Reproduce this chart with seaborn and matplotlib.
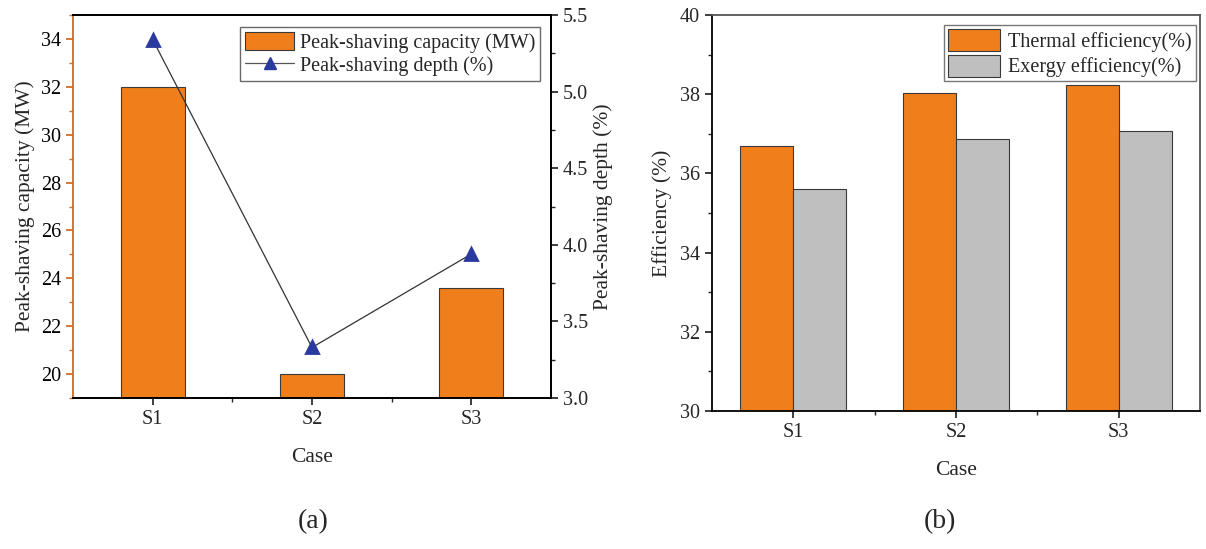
import numpy as np
import pandas as pd
import matplotlib
matplotlib.use("Agg")
import matplotlib.pyplot as plt
from matplotlib.ticker import MultipleLocator, FixedLocator, FormatStrFormatter
from matplotlib.patches import Patch
from matplotlib.lines import Line2D
import seaborn as sns

cases = ["S1", "S2", "S3"]
capacity_mw = [32.0, 20.0, 23.6]
depth_pct = [5.34, 3.33, 3.94]
thermal_eff = [36.70, 38.02, 38.22]
exergy_eff = [35.60, 36.86, 37.06]

sns.set_theme(style="ticks")
plt.rcParams["font.family"] = ["Liberation Serif", "DejaVu Serif"]

ORANGE = "#F07F1B"
GREY = "#BFBFBF"
EDGE = "#3A3A3A"
BLUE = "#2B3A9E"
TICK_FS = 14.5
LABEL_FS = 15.5
LEG_FS = 14.5

fig = plt.figure(figsize=(12.06, 5.49), dpi=100)
ax1 = fig.add_axes([0.0605, 0.275, 0.3964, 0.6977])
ax3 = fig.add_axes([0.5904, 0.2514, 0.4046, 0.7213])

# ---- (a) peak-shaving capacity and depth ----
df_a = pd.DataFrame({"Case": cases, "Capacity": capacity_mw, "Depth": depth_pct})
sns.barplot(data=df_a, x="Case", y="Capacity", ax=ax1, color=ORANGE,
            width=0.4, edgecolor=EDGE, linewidth=0.8, saturation=1)
ax1.set_ylim(19, 35)
ax1.set_xlim(-0.5, 2.5)
ax1.set_yticks(np.arange(20, 35, 2))
ax1.yaxis.set_minor_locator(MultipleLocator(1))
ax1.xaxis.set_minor_locator(FixedLocator([0.5, 1.5]))
ax1.set_ylabel("Peak-shaving capacity (MW)", fontsize=LABEL_FS, labelpad=4)
ax1.set_xlabel("Case", fontsize=LABEL_FS, labelpad=14)

ax2 = ax1.twinx()
sns.pointplot(data=df_a, x="Case", y="Depth", ax=ax2, color=BLUE,
              markers="^", linestyles="-", errorbar=None)
for ln in ax2.lines:
    ln.set_color("#333333")
    ln.set_linewidth(0.9)
    ln.set_markerfacecolor(BLUE)
    ln.set_markeredgecolor(BLUE)
    ln.set_markersize(8)
for coll in ax2.collections:
    coll.set_facecolor(BLUE)
    coll.set_edgecolor(BLUE)
ax2.set_ylim(3.0, 5.5)
ax2.set_xlim(-0.5, 2.5)
ax2.yaxis.set_major_locator(MultipleLocator(0.5))
ax2.yaxis.set_minor_locator(MultipleLocator(0.25))
ax2.yaxis.set_major_formatter(FormatStrFormatter("%.1f"))
ax2.set_ylabel("Peak-shaving depth (%)", fontsize=LABEL_FS, labelpad=4)
ax2.set_xlabel("")

for s in ["top", "bottom", "right"]:
    ax1.spines[s].set_color("black")
    ax2.spines[s].set_color("black")
ax1.spines["left"].set_color("#D2691E")
ax2.spines["left"].set_visible(False)
for a in (ax1, ax2):
    for sp in a.spines.values():
        sp.set_linewidth(1.3)
ax1.tick_params(axis="y", which="both", colors="#D2691E", labelcolor="black",
                labelsize=TICK_FS)
ax1.tick_params(axis="y", which="major", length=5)
ax1.tick_params(axis="y", which="minor", length=3)
ax1.tick_params(axis="x", which="major", length=5, labelsize=TICK_FS)
ax1.tick_params(axis="x", which="minor", length=3)
ax2.tick_params(axis="y", which="major", length=5, labelsize=TICK_FS)
ax2.tick_params(axis="y", which="minor", length=3)

leg_a = [Patch(facecolor=ORANGE, edgecolor=EDGE, linewidth=0.8,
               label="Peak-shaving capacity (MW)"),
         Line2D([0], [0], color="#555555", lw=0.9, marker="^", markersize=8,
                markerfacecolor=BLUE, markeredgecolor=BLUE,
                label="Peak-shaving depth (%)")]
ax2.legend(handles=leg_a, loc="upper right", bbox_to_anchor=(0.99, 0.985),
           fontsize=LEG_FS, frameon=True, fancybox=False, edgecolor="#444444",
           handlelength=2.4, handleheight=1.0, handletextpad=0.3, borderpad=0.25,
           labelspacing=0.1, borderaxespad=0.3)

# ---- (b) efficiencies ----
df_b = pd.DataFrame({
    "Case": cases * 2,
    "Efficiency": thermal_eff + exergy_eff,
    "Type": ["Thermal efficiency(%)"] * 3 + ["Exergy efficiency(%)"] * 3,
})
sns.barplot(data=df_b, x="Case", y="Efficiency", hue="Type", ax=ax3,
            palette=[ORANGE, GREY], width=0.65, edgecolor=EDGE, linewidth=0.8,
            saturation=1)
ax3.set_ylim(30, 40)
ax3.set_xlim(-0.5, 2.5)
ax3.yaxis.set_major_locator(MultipleLocator(2))
ax3.yaxis.set_minor_locator(MultipleLocator(1))
ax3.xaxis.set_minor_locator(FixedLocator([0.5, 1.5]))
ax3.set_ylabel("Efficiency (%)", fontsize=LABEL_FS, labelpad=6)
ax3.set_xlabel("Case", fontsize=LABEL_FS, labelpad=14)
for sp in ax3.spines.values():
    sp.set_visible(True)
    sp.set_color("black")
    sp.set_linewidth(1.3)
ax3.spines["top"].set_color("#555555")
ax3.spines["right"].set_color("#555555")
ax3.tick_params(axis="both", which="major", length=5, labelsize=TICK_FS)
ax3.tick_params(axis="both", which="minor", length=3)
ax3.tick_params(axis="y", which="both", right=False)
ax3.tick_params(axis="x", which="both", top=False)
h, l = ax3.get_legend_handles_labels()
ax3.legend(h, l, loc="upper right", bbox_to_anchor=(1.0, 0.985), fontsize=LEG_FS,
           frameon=True, fancybox=False, edgecolor="#555555", handlelength=2.6,
           handleheight=1.3, handletextpad=0.4, borderpad=0.2, labelspacing=0.15,
           borderaxespad=0.2)

fig.text(313 / 1206, 1 - 522 / 549, "(a)", ha="center", va="center", fontsize=20)
fig.text(940 / 1206, 1 - 522 / 549, "(b)", ha="center", va="center", fontsize=20)

fig.savefig("out.png", dpi=100)
